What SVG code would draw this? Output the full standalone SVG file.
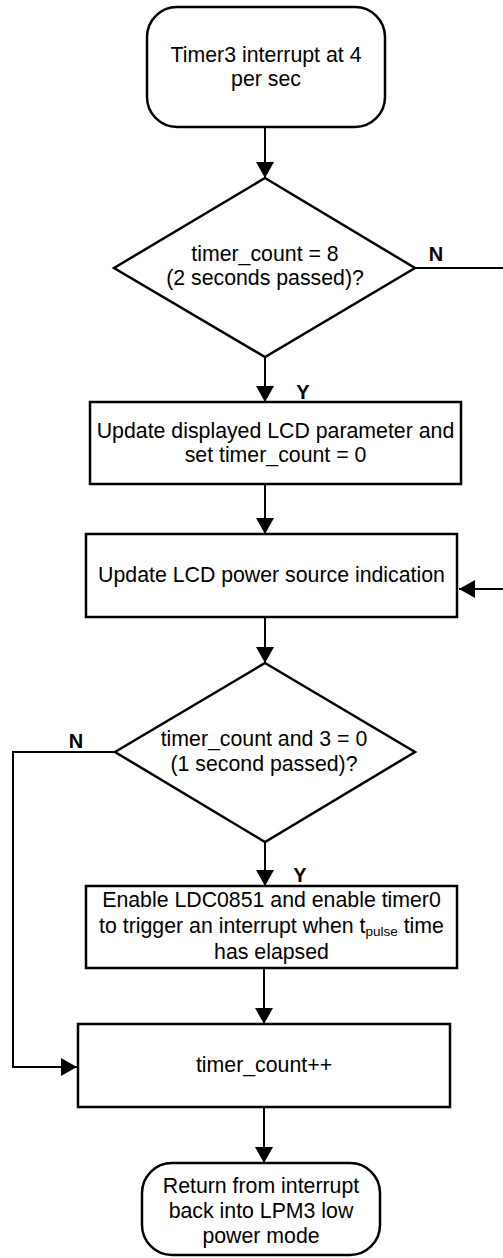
<svg xmlns="http://www.w3.org/2000/svg" width="503" height="1258" viewBox="0 0 503 1258">
<defs>
<style>
.shape{fill:#fff;stroke:#000;stroke-width:2.5}
.conn{fill:none;stroke:#000;stroke-width:2}
.t{font-family:"Liberation Sans",Arial,sans-serif;font-size:21.3px;fill:#000;text-anchor:middle}
.lbl{font-family:"Liberation Sans",Arial,sans-serif;font-size:20px;font-weight:bold;fill:#000;text-anchor:middle}
</style>
<marker id="arr" markerWidth="16" markerHeight="18" refX="16" refY="9" orient="auto" markerUnits="userSpaceOnUse">
<path d="M0,0 L16,9 L0,18 Z" fill="#000"/>
</marker>
</defs>
<rect width="503" height="1258" fill="#fff"/>
<g id="connectors">
<path class="conn" d="M265,127 V178" marker-end="url(#arr)"/>
<path class="conn" d="M265,357 V402" marker-end="url(#arr)"/>
<path class="conn" d="M265,484 V534" marker-end="url(#arr)"/>
<path class="conn" d="M415,268 H506 V589 H459" marker-end="url(#arr)"/>
<path class="conn" d="M265,617 V663" marker-end="url(#arr)"/>
<path class="conn" d="M265,842 V886" marker-end="url(#arr)"/>
<path class="conn" d="M115,752 H13 V1067 H77" marker-end="url(#arr)"/>
<path class="conn" d="M264,968 V1024" marker-end="url(#arr)"/>
<path class="conn" d="M264,1107 V1163" marker-end="url(#arr)"/>
<text class="lbl" x="436" y="261">N</text>
<text class="lbl" x="303" y="399">Y</text>
<text class="lbl" x="76" y="748">N</text>
<text class="lbl" x="300" y="882">Y</text>
</g>
<g id="start">
<rect class="shape" x="147" y="7" width="238" height="120" rx="30" ry="30"/>
<text class="t" x="266" y="62">Timer3 interrupt at 4</text>
<text class="t" x="266" y="85.5">per sec</text>
</g>
<g id="decision1">
<polygon class="shape" points="265,178 415,268 265,357 114,268"/>
<text class="t" x="265" y="261">timer_count = 8</text>
<text class="t" x="265" y="284.5">(2 seconds passed)?</text>
</g>
<g id="update-lcd-param">
<rect class="shape" x="90" y="402" width="371" height="82"/>
<text class="t" x="275.5" y="438">Update displayed LCD parameter and</text>
<text class="t" x="275.5" y="461.5">set timer_count = 0</text>
</g>
<g id="update-power-source">
<rect class="shape" x="86" y="534" width="371" height="83"/>
<text class="t" x="271.5" y="582">Update LCD power source indication</text>
</g>
<g id="decision2">
<polygon class="shape" points="265,663 415,752 265,842 115,752"/>
<text class="t" x="264" y="746">timer_count and 3 = 0</text>
<text class="t" x="264" y="770.5">(1 second passed)?</text>
</g>
<g id="enable-ldc">
<rect class="shape" x="86" y="886" width="371" height="82"/>
<text class="t" x="271.5" y="907">Enable LDC0851 and enable timer0</text>
<text class="t" x="271.5" y="933">to trigger an interrupt when t<tspan font-size="13.5" dy="3">pulse</tspan><tspan dy="-3"> time</tspan></text>
<text class="t" x="271.5" y="959">has elapsed</text>
</g>
<g id="increment">
<rect class="shape" x="78" y="1024" width="372" height="83"/>
<text class="t" x="264" y="1072">timer_count++</text>
</g>
<g id="end">
<rect class="shape" x="142" y="1163" width="238" height="92" rx="30" ry="30"/>
<text class="t" x="261" y="1193">Return from interrupt</text>
<text class="t" x="261" y="1218">back into LPM3 low</text>
<text class="t" x="261" y="1243">power mode</text>
</g>
</svg>
